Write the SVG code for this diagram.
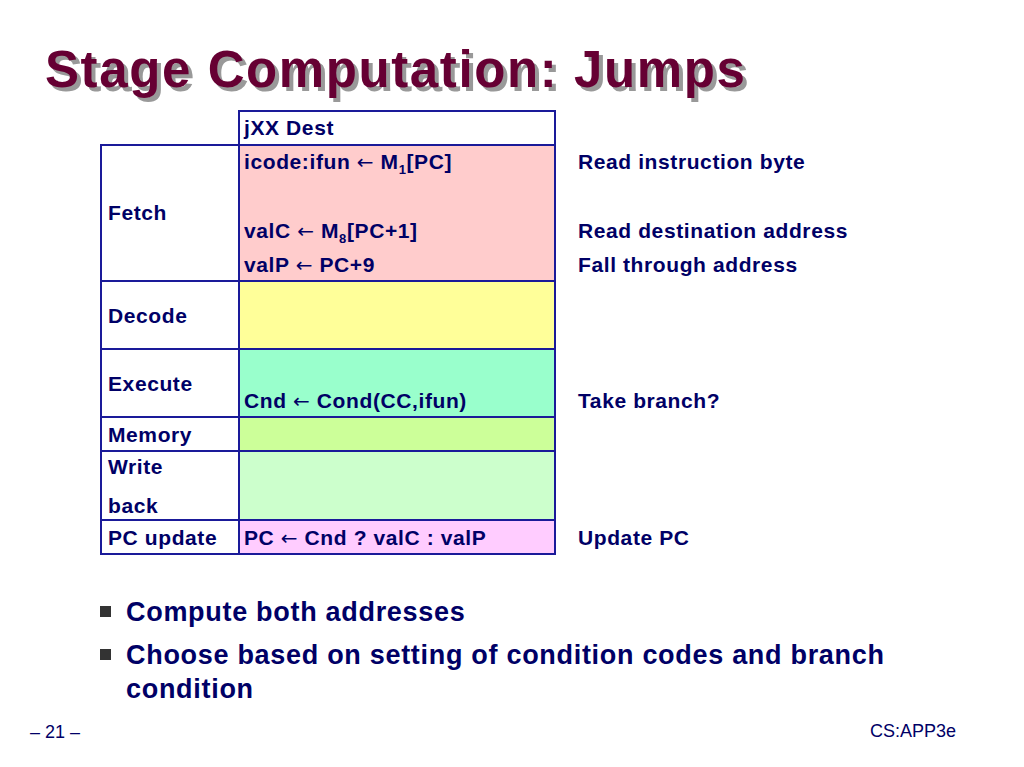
<svg xmlns="http://www.w3.org/2000/svg" width="1024" height="767" viewBox="0 0 1024 767">
<style>
.t{font-family:"Liberation Sans",Arial,sans-serif;font-weight:bold;font-size:21px;letter-spacing:0.6px;fill:#000066}
.a{font-family:"DejaVu Sans",sans-serif;font-weight:normal;font-size:20px}
.b{stroke:#1a1a99;stroke-width:2}
.title{font-family:"Liberation Sans",Arial,sans-serif;font-weight:bold;font-size:51px;letter-spacing:1.6px}
.bul{font-family:"Liberation Sans",Arial,sans-serif;font-weight:bold;font-size:27px;letter-spacing:0.7px;fill:#000066}
</style>
<rect width="1024" height="767" fill="#fff"/>
<text class="title" x="49" y="91" fill="#999">Stage Computation: Jumps</text>
<text class="title" x="45" y="87" fill="#660033">Stage Computation: Jumps</text>
<g id="header"><rect class="b" x="239" y="111" width="316" height="34" fill="#fff"/><text class="t" x="244" y="135">jXX Dest</text></g>
<g id="fetch">
<rect class="b" x="101" y="145" width="138" height="136" fill="#fff"/>
<rect class="b" x="239" y="145" width="316" height="136" fill="#ffcccc"/>
<text class="t" x="108" y="220">Fetch</text>
<text class="t" x="244" y="169">icode:ifun <tspan class="a">←</tspan> M<tspan font-size="13" dy="5">1</tspan><tspan dy="-5">[PC]</tspan></text>
<text class="t" x="244" y="238">valC <tspan class="a">←</tspan> M<tspan font-size="13" dy="5">8</tspan><tspan dy="-5">[PC+1]</tspan></text>
<text class="t" x="244" y="272">valP <tspan class="a">←</tspan> PC+9</text>
</g>
<g id="decode">
<rect class="b" x="101" y="281" width="138" height="68" fill="#fff"/>
<rect class="b" x="239" y="281" width="316" height="68" fill="#ffff99"/>
<text class="t" x="108" y="323">Decode</text>
</g>
<g id="execute">
<rect class="b" x="101" y="349" width="138" height="68" fill="#fff"/>
<rect class="b" x="239" y="349" width="316" height="68" fill="#99ffcc"/>
<text class="t" x="108" y="391">Execute</text>
<text class="t" x="244" y="408">Cnd <tspan class="a">←</tspan> Cond(CC,ifun)</text>
</g>
<g id="memory">
<rect class="b" x="101" y="417" width="138" height="34" fill="#fff"/>
<rect class="b" x="239" y="417" width="316" height="34" fill="#ccff99"/>
<text class="t" x="108" y="442">Memory</text>
</g>
<g id="writeback">
<rect class="b" x="101" y="451" width="138" height="69" fill="#fff"/>
<rect class="b" x="239" y="451" width="316" height="69" fill="#ccffcc"/>
<text class="t" x="108" y="474">Write</text>
<text class="t" x="108" y="513">back</text>
</g>
<g id="pcupdate">
<rect class="b" x="101" y="520" width="138" height="34" fill="#fff"/>
<rect class="b" x="239" y="520" width="316" height="34" fill="#ffccff"/>
<text class="t" x="108" y="545">PC update</text>
<text class="t" x="244" y="545">PC <tspan class="a">←</tspan> Cnd ? valC : valP</text>
</g>
<g id="notes">
<text class="t" x="578" y="169">Read instruction byte</text>
<text class="t" x="578" y="238">Read destination address</text>
<text class="t" x="578" y="272">Fall through address</text>
<text class="t" x="578" y="408">Take branch?</text>
<text class="t" x="578" y="545">Update PC</text>
</g>
<rect x="100" y="606" width="11" height="11" fill="#333"/>
<rect x="100" y="649" width="11" height="11" fill="#333"/>
<text class="bul" x="126" y="621">Compute both addresses</text>
<text class="bul" x="126" y="664">Choose based on setting of condition codes and branch</text>
<text class="bul" x="126" y="698">condition</text>
<text x="30" y="738" font-family="Liberation Sans,Arial,sans-serif" font-size="18" fill="#000066">– 21 –</text>
<text x="870" y="737" font-family="Liberation Sans,Arial,sans-serif" font-size="18" fill="#000066">CS:APP3e</text>
</svg>
